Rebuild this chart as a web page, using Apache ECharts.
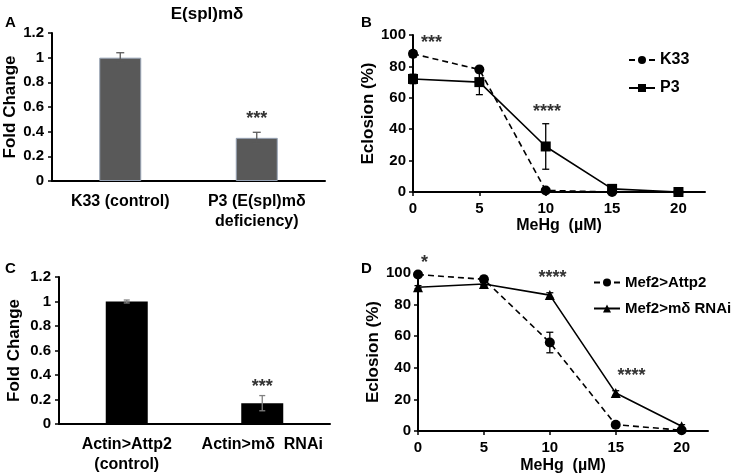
<!DOCTYPE html>
<html><head><meta charset="utf-8">
<script src="https://cdn.jsdelivr.net/npm/echarts@6/dist/echarts.min.js"></script>
<style>html,body{margin:0;padding:0;background:#fff}#c{width:732px;height:476px}</style>
</head><body><div id="c"></div>
<script>
// ---- Data ----
const catsA = ['K33 (control)', 'P3 (E(spl)mδ\ndeficiency)'];
const valsA = [1.0, 0.35];
const errA = [0.04, 0.045];
const starsA = [[1, 0.5, '***']];

const catsC = ['Actin>Attp2\n(control)', 'Actin>mδ  RNAi'];
const valsC = [1.0, 0.17];
const errC = [0.012, 0.062];
const starsC = [[1, 0.3, '***']];

const dose = [0, 5, 10, 15, 20];
const k33 = [88, 78, 1, 0, 0];
const k33Err = [2, 2, 0.5, 0.5, 0];
const p3 = [72, 70, 29, 2, 0];
const p3Err = [3, 8, 14.5, 1, 0];
const starsB = [[1.4, 95, '***'], [10.1, 51, '****']];

const attp2 = [99, 96, 56, 4, 0.5];
const attp2Err = [1, 2, 6.5, 1, 0.5];
const rnai = [91, 93, 86, 24, 3];
const rnaiErr = [1, 1, 1.5, 1.5, 1];
const starsD = [[0.5, 106, '*'], [10.2, 96.5, '****'], [16.2, 34.5, '****']];

// ---- Helpers ----
const FONT = '"Liberation Sans", Arial, sans-serif';
const lbl = { color: '#000', fontWeight: 'bold', fontSize: 15, fontFamily: FONT };

function errData(xs, vs, es) { return vs.map((v, i) => [xs[i], v - es[i], v + es[i]]); }
function errSeries(xi, yi, data, color, cap) {
  return {
    type: 'custom', xAxisIndex: xi, yAxisIndex: yi, data: data, z: 3, silent: true,
    renderItem: function (params, api) {
      const lo = api.coord([api.value(0), api.value(1)]);
      const hi = api.coord([api.value(0), api.value(2)]);
      const st = { stroke: color, lineWidth: 1.3 };
      return { type: 'group', children: [
        { type: 'line', shape: { x1: lo[0], y1: lo[1], x2: hi[0], y2: hi[1] }, style: st },
        { type: 'line', shape: { x1: hi[0] - cap, y1: hi[1], x2: hi[0] + cap, y2: hi[1] }, style: st },
        { type: 'line', shape: { x1: lo[0] - cap, y1: lo[1], x2: lo[0] + cap, y2: lo[1] }, style: st }
      ]};
    }
  };
}
function starSeries(xi, yi, stars) {
  return {
    type: 'custom', xAxisIndex: xi, yAxisIndex: yi, silent: true, z: 5,
    data: stars.map(s => [s[0], s[1]]),
    renderItem: function (params, api) {
      const p = api.coord([api.value(0), api.value(1)]);
      return { type: 'text', x: p[0], y: p[1], style: {
        text: stars[params.dataIndex][2], fill: '#333', font: 'bold 18px ' + FONT,
        textAlign: 'center', textVerticalAlign: 'middle' } };
    }
  };
}
const axLine = { show: true, lineStyle: { color: '#000', width: 2 } };
const axTick = { show: true, length: 4, inside: false, lineStyle: { color: '#000', width: 1.5 } };

function barX(cats) {
  return { type: 'category', data: cats, axisLine: axLine, axisTick: { show: false },
    axisLabel: Object.assign({}, lbl, { fontSize: 16, margin: 11, lineHeight: 20, interval: 0 }) };
}
function barY(gridIndex, gap) {
  return { type: 'value', gridIndex: gridIndex, min: 0, max: 1.2, interval: 0.2,
    splitLine: { show: false }, axisLine: axLine, axisTick: axTick,
    axisLabel: Object.assign({}, lbl, { margin: 8 }),
    name: 'Fold Change', nameLocation: 'middle', nameGap: gap,
    nameTextStyle: Object.assign({}, lbl, { fontSize: 17 }) };
}
function doseX(gridIndex, gap) {
  return { type: 'value', gridIndex: gridIndex, min: 0, max: 22, interval: 5,
    splitLine: { show: false }, axisLine: axLine, axisTick: axTick,
    axisLabel: Object.assign({}, lbl, { margin: 9, showMaxLabel: false }),
    name: 'MeHg  (µM)', nameLocation: 'middle', nameGap: gap,
    nameTextStyle: Object.assign({}, lbl, { fontSize: 16 }) };
}
function doseY(gridIndex) {
  return { type: 'value', gridIndex: gridIndex, min: 0, max: 100, interval: 20,
    splitLine: { show: false }, axisLine: axLine, axisTick: axTick,
    axisLabel: Object.assign({}, lbl, { margin: 7 }),
    name: 'Eclosion (%)', nameLocation: 'middle', nameGap: 27,
    nameTextStyle: Object.assign({}, lbl, { fontSize: 17 }) };
}
function pts(xs, ys) { return ys.map((y, i) => [xs[i], y]); }

const option = {
  animation: false,
  backgroundColor: '#fff',
  title: [{ text: 'E(spl)mδ', left: 202, top: 1, textAlign: 'center',
    textStyle: { color: '#000', fontWeight: 'bold', fontSize: 17, fontFamily: FONT } }],
  grid: [
    { left: 52, top: 33, width: 273, height: 148, outerBoundsMode: 'none' },
    { left: 413, top: 35, width: 292, height: 157, outerBoundsMode: 'none' },
    { left: 59, top: 277, width: 271, height: 147, outerBoundsMode: 'none' },
    { left: 418, top: 273, width: 290, height: 158, outerBoundsMode: 'none' }
  ],
  xAxis: [
    Object.assign(barX(catsA), { gridIndex: 0 }),
    doseX(1, 26),
    Object.assign(barX(catsC), { gridIndex: 2 }),
    doseX(3, 27)
  ],
  yAxis: [barY(0, 33), doseY(1), barY(2, 36), doseY(3)],
  legend: [
    { orient: 'vertical', left: 623, top: 47, itemWidth: 26, itemHeight: 10, itemGap: 12,
      data: ['K33', 'P3'], textStyle: Object.assign({}, lbl, { fontSize: 16 }) },
    { orient: 'vertical', left: 588, top: 270, itemWidth: 26, itemHeight: 10, itemGap: 11,
      padding: [5, 0, 5, 5],
      data: ['Mef2>Attp2', 'Mef2>mδ RNAi'], textStyle: Object.assign({}, lbl, { fontSize: 15 }) }
  ],
  graphic: [
    { type: 'text', left: 5, top: 15, style: { text: 'A', font: 'bold 15px ' + FONT, fill: '#000' } },
    { type: 'text', left: 361, top: 15, style: { text: 'B', font: 'bold 15px ' + FONT, fill: '#000' } },
    { type: 'text', left: 5, top: 261, style: { text: 'C', font: 'bold 15px ' + FONT, fill: '#000' } },
    { type: 'text', left: 361, top: 261, style: { text: 'D', font: 'bold 15px ' + FONT, fill: '#000' } }
  ],
  series: [
    { type: 'bar', xAxisIndex: 0, yAxisIndex: 0, data: valsA, barWidth: 42,
      itemStyle: { color: '#595959', borderColor: '#97a3b5', borderWidth: 1 } },
    errSeries(0, 0, errData([0, 1], valsA, errA), '#5a5a5a', 4),
    starSeries(0, 0, starsA),

    errSeries(1, 1, errData(dose, k33, k33Err), '#000', 3.5),
    errSeries(1, 1, errData(dose, p3, p3Err), '#000', 3.5),
    { name: 'K33', type: 'line', xAxisIndex: 1, yAxisIndex: 1, data: pts(dose, k33),
      symbol: 'circle', symbolSize: 10, z: 4,
      lineStyle: { color: '#000', width: 1.6, type: [6, 4] }, itemStyle: { color: '#000' } },
    { name: 'P3', type: 'line', xAxisIndex: 1, yAxisIndex: 1, data: pts(dose, p3),
      symbol: 'rect', symbolSize: 10, z: 4,
      lineStyle: { color: '#000', width: 1.6 }, itemStyle: { color: '#000' } },
    starSeries(1, 1, starsB),

    { type: 'bar', xAxisIndex: 2, yAxisIndex: 2, data: valsC, barWidth: 42,
      itemStyle: { color: '#000' } },
    errSeries(2, 2, errData([0, 1], valsC, errC), '#808080', 3),
    starSeries(2, 2, starsC),

    errSeries(3, 3, errData(dose, attp2, attp2Err), '#000', 3.5),
    errSeries(3, 3, errData(dose, rnai, rnaiErr), '#000', 3.5),
    { name: 'Mef2>Attp2', type: 'line', xAxisIndex: 3, yAxisIndex: 3, data: pts(dose, attp2),
      symbol: 'circle', symbolSize: 10, z: 4,
      lineStyle: { color: '#000', width: 1.6, type: [6, 4] }, itemStyle: { color: '#000' } },
    { name: 'Mef2>mδ RNAi', type: 'line', xAxisIndex: 3, yAxisIndex: 3, data: pts(dose, rnai),
      symbol: 'triangle', symbolSize: 10, z: 4,
      lineStyle: { color: '#000', width: 1.6 }, itemStyle: { color: '#000' } },
    starSeries(3, 3, starsD)
  ]
};
const chart = echarts.init(document.getElementById('c'), null, { renderer: 'canvas' });
chart.setOption(option);
</script></body></html>
